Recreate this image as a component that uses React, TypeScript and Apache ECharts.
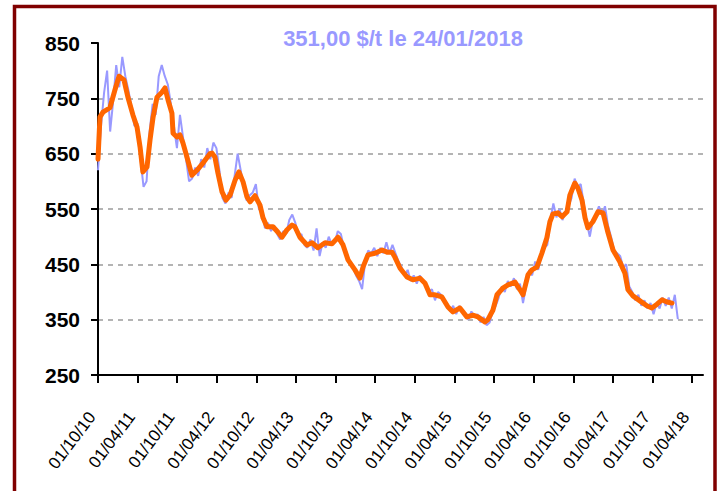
import React, { useEffect, useRef } from "react";
import * as echarts from "echarts";

const TITLE = "351,00 $/t le 24/01/2018";
const START_DATE = "01/10/10";
const TICK_LABELS = [
  "01/10/10", "01/04/11", "01/10/11", "01/04/12", "01/10/12", "01/04/13",
  "01/10/13", "01/04/14", "01/10/14", "01/04/15", "01/10/15", "01/04/16",
  "01/10/16", "01/04/17", "01/10/17", "01/04/18",
];
const Y_MIN = 250;
const Y_MAX = 850;
const Y_STEP = 100;
const X_MAX_DAYS = 2790;

// daily price (sampled every 14 days from 01/10/10)
const BLUE_STEP_DAYS = 14;
const blueValues = [
  620, 700, 760, 800, 690, 745, 810, 770, 825, 790,
  765, 735, 700, 705, 640, 590, 600, 690, 740, 720,
  790, 810, 790, 775, 740, 700, 660, 720, 680, 640,
  600, 605, 625, 610, 640, 625, 660, 640, 670, 660,
  620, 570, 560, 580, 570, 610, 650, 620, 590, 565,
  575, 580, 595, 550, 545, 515, 525, 510, 520, 505,
  495, 510, 505, 530, 540, 525, 500, 505, 485, 480,
  495, 475, 515, 465, 490, 480, 500, 485, 490, 510,
  505, 480, 470, 450, 445, 430, 420, 405, 455, 475,
  470, 480, 465, 480, 470, 490, 470, 485, 470, 455,
  445, 430, 440, 420, 430, 415, 430, 420, 410, 400,
  405, 385, 400, 395, 385, 375, 365, 375, 360, 375,
  365, 360, 350, 365, 355, 360, 345, 355, 340, 345,
  365, 375, 390, 410, 400, 420, 410, 425, 405, 415,
  380, 410, 440, 430, 455, 440, 465, 480, 485, 530,
  560, 535, 550, 530, 545, 555, 570, 605, 590, 595,
  560, 525, 500, 530, 540, 555, 540, 555, 520, 500,
  475, 470, 465, 445, 450, 410, 400, 385, 395, 375,
  385, 370, 380, 360, 380, 370, 390, 375, 390, 370,
  395, 351,
];

// moving average (days since 01/10/10)
const orangeDays = [
  0, 9, 23, 55, 78, 97, 120, 138, 161, 180, 194, 207, 226, 240, 254, 272, 295, 309, 323, 341,
  346, 364, 378, 392, 410, 433, 456, 484, 516, 526, 539, 553, 572, 590, 609, 632, 650, 669, 687, 701,
  724, 747, 761, 779, 807, 830, 848, 871, 895, 908, 931, 964, 987, 1014, 1047, 1079, 1107, 1130, 1153, 1185,
  1208, 1222, 1245, 1277, 1310, 1333, 1356, 1369, 1393, 1425, 1452, 1485, 1508, 1531, 1554, 1586, 1614, 1637, 1669, 1701,
  1729, 1752, 1784, 1798, 1821, 1840, 1867, 1891, 1923, 1946, 1960, 1983, 2001, 2024, 2047, 2070, 2084, 2098, 2121, 2140,
  2163, 2176, 2199, 2213, 2232, 2246, 2259, 2282, 2306, 2329, 2352, 2375, 2407, 2430, 2444, 2467, 2499, 2531, 2554, 2578,
  2601, 2624, 2647,
];
const orangeValues = [
  640, 716, 725, 733, 765, 790, 783, 752, 720, 698, 662, 617, 626, 675, 716, 752, 761, 769, 747, 723,
  687, 680, 684, 669, 644, 611, 620, 633, 650, 651, 644, 615, 581, 566, 575, 602, 617, 599, 572, 563,
  574, 557, 534, 518, 518, 508, 499, 512, 521, 518, 499, 485, 489, 480, 489, 487, 499, 485, 458, 440,
  425, 445, 467, 470, 476, 472, 472, 463, 443, 427, 422, 425, 416, 395, 395, 391, 373, 364, 371, 355,
  358, 355, 346, 350, 367, 395, 407, 413, 418, 404, 395, 431, 440, 445, 470, 498, 527, 541, 543, 536,
  545, 575, 597, 588, 566, 534, 516, 527, 545, 543, 507, 476, 454, 434, 404, 393, 384, 375, 371, 378,
  386, 382, 380,
];

function toUTC(s: string): number {
  const [d, m, y] = s.split("/").map(Number);
  return Date.UTC(2000 + y, m - 1, d);
}
const START_MS = toUTC(START_DATE);
function labelToDay(s: string): number {
  return Math.round((toUTC(s) - START_MS) / 86400000);
}

const FONT = 'Arial, "Liberation Sans", sans-serif';

export default function App() {
  const ref = useRef<HTMLDivElement>(null);
  useEffect(() => {
    if (!ref.current) return;
    const chart = echarts.init(ref.current, undefined, { renderer: "svg" });
    const tickDays = TICK_LABELS.map(labelToDay);
    const labelMap: Record<number, string> = {};
    tickDays.forEach((d, i) => (labelMap[d] = TICK_LABELS[i]));
    const blueData = blueValues.map((v, i) => [i * BLUE_STEP_DAYS, v]);
    const orangeData = orangeValues.map((v, i) => [orangeDays[i], v]);

    chart.setOption({
      animation: false,
      backgroundColor: "#ffffff",
      grid: { left: 98, right: 19, top: 43, bottom: 116, containLabel: false },
      xAxis: {
        type: "value",
        min: 0,
        max: X_MAX_DAYS,
        axisLine: { show: true, onZero: false, lineStyle: { color: "#000", width: 2 } },
        axisTick: { show: true, length: 8, customValues: tickDays, lineStyle: { color: "#000", width: 2 } },
        axisLabel: {
          customValues: tickDays,
          rotate: 53,
          margin: 31,
          padding: [0, 10, 0, 0],
          fontSize: 17,
          fontFamily: FONT,
          color: "#000",
          formatter: (v: number) => labelMap[Math.round(v)] ?? "",
        },
        splitLine: { show: false },
      },
      yAxis: {
        type: "value",
        min: Y_MIN,
        max: Y_MAX,
        interval: Y_STEP,
        axisLine: { show: true, lineStyle: { color: "#000", width: 2 } },
        axisTick: { show: true, length: 7, lineStyle: { color: "#000", width: 2 } },
        axisLabel: { margin: 18, fontSize: 21, fontWeight: "bold", fontFamily: FONT, color: "#000" },
        splitLine: {
          show: true,
          showMinLine: false,
          showMaxLine: false,
          lineStyle: { color: "#b4b4b4", width: 2, type: [5, 5] },
        },
      },
      series: [
        {
          type: "line",
          data: blueData,
          showSymbol: false,
          silent: true,
          lineStyle: { color: "#9999ff", width: 2 },
          z: 2,
        },
        {
          type: "line",
          data: orangeData,
          showSymbol: false,
          silent: true,
          lineStyle: { color: "#ff6600", width: 5, join: "round", cap: "round" },
          z: 3,
        },
      ],
      graphic: [
        {
          type: "rect",
          silent: true,
          shape: { x: 14.5, y: 6.5, width: 700.5, height: 600 },
          style: { fill: "none", stroke: "#800000", lineWidth: 3.5 },
          z: 100,
        },
        {
          type: "text",
          x: 403,
          y: 38,
          silent: true,
          style: {
            text: TITLE,
            fill: "#9999ff",
            font: `bold 22px ${FONT}`,
            align: "center",
            verticalAlign: "middle",
          },
          z: 100,
        },
      ],
    });
    return () => chart.dispose();
  }, []);
  return (
    <div
      ref={ref}
      style={{ position: "absolute", left: 0, top: 0, width: 722, height: 491 }}
    />
  );
}
